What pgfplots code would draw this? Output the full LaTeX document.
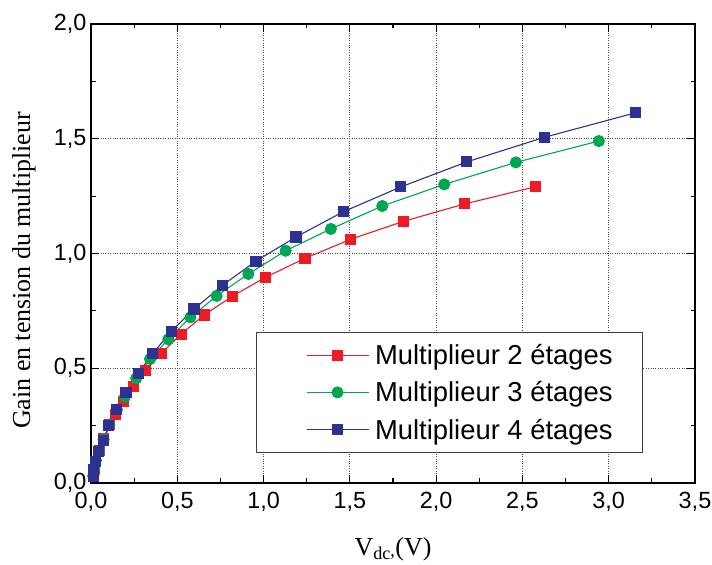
\documentclass[border=0pt]{standalone}
\usepackage{fontspec}
\setmainfont{Liberation Serif}
\setsansfont{Liberation Sans}
\usepackage{pgfplots}
\pgfplotsset{compat=1.18}
\definecolor{cred}{RGB}{237,28,36}
\definecolor{cgreen}{RGB}{0,166,81}
\definecolor{cblue}{RGB}{46,49,146}
\begin{document}
\begin{tikzpicture}
\begin{axis}[
  scale only axis, width=604bp, height=459bp,
  xmin=0, xmax=3.5, ymin=0, ymax=2,
  xtick={0,0.5,1,1.5,2,2.5,3,3.5},
  ytick={0,0.5,1,1.5,2},
  minor x tick num=1, minor y tick num=1,
  tick align=inside,
  major tick length=8bp, minor tick length=4.5bp,
  axis line style={line width=1.6bp},
  every tick/.style={black, line width=1.2bp},
  grid=major,
  major grid style={dotted, black!70, line width=0.9bp},
  tick label style={font=\fontsize{23.5}{26}\sffamily},
  xticklabel style={yshift=-6bp,/pgf/number format/fixed,/pgf/number format/fixed zerofill,/pgf/number format/precision=1,/pgf/number format/use comma,/pgf/number format/assume math mode=true},
  yticklabel style={xshift=-1bp,/pgf/number format/fixed,/pgf/number format/fixed zerofill,/pgf/number format/precision=1,/pgf/number format/use comma,/pgf/number format/assume math mode=true},
  xlabel={V\textsubscript{dc\raisebox{3bp}{,}}(V)},
  ylabel={Gain en tension du multiplieur},
  every axis x label/.style={at={(axis description cs:0.5,-0.1437)}, anchor=center},
  every axis y label/.style={at={(axis description cs:-0.1109,0.463)}, anchor=center, rotate=90},
  label style={font=\fontsize{26}{29}\selectfont},
  legend cell align=left,
  legend style={at={(rel axis cs:0.2732,0.329)}, anchor=north west,
    draw=darkgray, line width=1bp, inner xsep=24bp, inner ysep=4bp,
    font=\fontsize{27.5}{30}\sffamily,
    nodes={inner xsep=6bp, inner ysep=7.8bp}},
  legend image code/.code={\path[draw=none,fill=none] (-26bp,0) -- (0bp,0);
    \draw[mark repeat=2,mark phase=2] plot coordinates {(0bp,0bp) (31bp,0bp) (62bp,0bp)};},
]
\addplot[cred, line width=1.1bp, mark=square*, mark size=5bp, mark options={solid, fill=cred, draw=cred}] coordinates {
(0.013,0.027)(0.018,0.057)(0.028,0.095)(0.048,0.140)(0.075,0.192)(0.108,0.255)(0.140,0.300)(0.188,0.355)(0.245,0.422)(0.317,0.490)(0.408,0.565)(0.522,0.649)(0.656,0.732)(0.819,0.814)(1.013,0.897)(1.240,0.979)(1.505,1.062)(1.81,1.140)(2.165,1.216)(2.576,1.291)};
\addlegendentry{Multiplieur 2 étages}
\addplot[cgreen, line width=1.1bp, mark=*, mark size=5.5bp, mark options={solid, fill=cgreen, draw=cgreen}] coordinates {
(0.013,0.030)(0.018,0.060)(0.028,0.098)(0.047,0.140)(0.073,0.190)(0.106,0.255)(0.150,0.320)(0.197,0.376)(0.262,0.456)(0.342,0.540)(0.448,0.626)(0.576,0.722)(0.728,0.815)(0.912,0.911)(1.128,1.012)(1.390,1.107)(1.688,1.207)(2.047,1.301)(2.462,1.397)(2.943,1.490)};
\addlegendentry{Multiplieur 3 étages}
\addplot[cblue, line width=1.1bp, mark=square*, mark size=5bp, mark options={solid, fill=cblue, draw=cblue}] coordinates {
(0.013,0.027)(0.017,0.057)(0.027,0.093)(0.046,0.136)(0.071,0.187)(0.104,0.250)(0.147,0.320)(0.203,0.394)(0.273,0.477)(0.358,0.564)(0.464,0.660)(0.597,0.758)(0.761,0.861)(0.956,0.967)(1.188,1.072)(1.462,1.182)(1.795,1.290)(2.177,1.399)(2.626,1.506)(3.155,1.613)};
\addlegendentry{Multiplieur 4 étages}
\end{axis}
\path (current axis.south west) ++(-91bp,-82bp) coordinate (bbA);
\path (current axis.north east) ++(17bp,24bp) coordinate (bbB);
\pgfresetboundingbox
\path (bbA) rectangle (bbB);
\end{tikzpicture}
\end{document}
